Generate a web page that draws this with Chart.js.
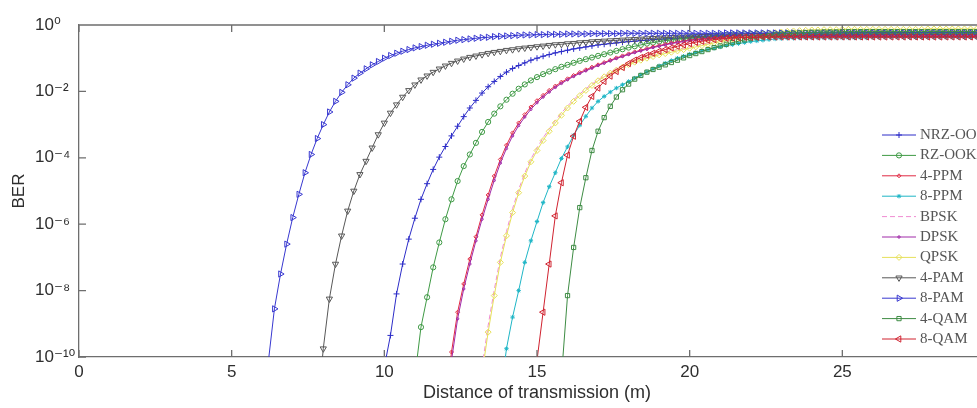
<!DOCTYPE html>
<html>
<head>
<meta charset="utf-8">
<title>BER vs distance</title>
<script src="https://cdn.jsdelivr.net/npm/chart.js@4.4.1/dist/chart.umd.min.js"></script>
<style>
  html, body { margin: 0; padding: 0; background: #fff; overflow: hidden; }
  #ber_chart { display: block; }
</style>
</head>
<body>
<canvas id="ber_chart" width="1000" height="408"></canvas>
<script>
// sample grid shared by every curve (m)
var distance = [
  6.2, 6.4, 6.6, 6.8, 7, 7.2, 7.4, 7.6, 7.8, 8,
  8.2, 8.4, 8.6, 8.8, 9, 9.2, 9.4, 9.6, 9.8, 10,
  10.2, 10.4, 10.6, 10.8, 11, 11.2, 11.4, 11.6, 11.8, 12,
  12.2, 12.4, 12.6, 12.8, 13, 13.2, 13.4, 13.6, 13.8, 14,
  14.2, 14.4, 14.6, 14.8, 15, 15.2, 15.4, 15.6, 15.8, 16,
  16.2, 16.4, 16.6, 16.8, 17, 17.2, 17.4, 17.6, 17.8, 18,
  18.2, 18.4, 18.6, 18.8, 19, 19.2, 19.4, 19.6, 19.8, 20,
  20.2, 20.4, 20.6, 20.8, 21, 21.2, 21.4, 21.6, 21.8, 22,
  22.2, 22.4, 22.6, 22.8, 23, 23.2, 23.4, 23.6, 23.8, 24,
  24.2, 24.4, 24.6, 24.8, 25, 25.2, 25.4, 25.6, 25.8, 26,
  26.2, 26.4, 26.6, 26.8, 27, 27.2, 27.4, 27.6, 27.8, 28,
  28.2, 28.4, 28.6, 28.8, 29, 29.2, 29.4, 29.6, 29.8, 30,
];

var seriesNames = ["NRZ-OOK", "RZ-OOK", "4-PPM", "8-PPM", "BPSK", "DPSK", "QPSK", "4-PAM", "8-PAM", "4-QAM", "8-QAM"];
// first distance of each curve
var startDistance = [10, 11, 12, 13.8, 13.2, 12, 13.2, 7.8, 6.2, 15.8, 14.8];

// log10(BER), one value per grid step from startDistance
var nrzOok = [
  -10.3, -9.35, -8.1, -7.2, -6.45, -5.82, -5.25, -4.78, -4.35, -3.98,
  -3.66, -3.34, -3.05, -2.76, -2.5, -2.27, -2.05, -1.86, -1.7, -1.55,
  -1.42, -1.31, -1.22, -1.14, -1.06, -1.0, -0.94, -0.89, -0.84, -0.8,
  -0.76, -0.72, -0.69, -0.66, -0.63, -0.6, -0.58, -0.56, -0.54, -0.52,
  -0.5, -0.49, -0.47, -0.46, -0.44, -0.43, -0.42, -0.41, -0.4, -0.39,
  -0.39, -0.38, -0.37, -0.37, -0.36, -0.36, -0.35, -0.35, -0.35, -0.34,
  -0.34, -0.34, -0.33, -0.33, -0.33, -0.33, -0.32, -0.32, -0.32, -0.32,
  -0.32, -0.31, -0.31, -0.31, -0.31, -0.31, -0.31, -0.31, -0.31, -0.31,
  -0.31, -0.3, -0.3, -0.3, -0.3, -0.3, -0.3, -0.3, -0.3, -0.3,
  -0.3, -0.3, -0.3, -0.3, -0.3, -0.3, -0.3, -0.3, -0.3, -0.3,
  -0.3,
];
var rzOok = [
  -10.6, -9.1, -8.2, -7.3, -6.55, -5.85, -5.25, -4.7, -4.25, -3.9,
  -3.55, -3.22, -2.92, -2.67, -2.45, -2.25, -2.07, -1.92, -1.79, -1.67,
  -1.57, -1.48, -1.4, -1.33, -1.26, -1.2, -1.14, -1.08, -1.03, -0.98,
  -0.93, -0.88, -0.83, -0.78, -0.73, -0.68, -0.64, -0.6, -0.56, -0.53,
  -0.5, -0.47, -0.45, -0.42, -0.4, -0.38, -0.36, -0.35, -0.33, -0.32,
  -0.31, -0.3, -0.29, -0.28, -0.27, -0.27, -0.26, -0.26, -0.25, -0.25,
  -0.25, -0.25, -0.24, -0.24, -0.24, -0.24, -0.24, -0.24, -0.23, -0.23,
  -0.23, -0.23, -0.23, -0.23, -0.23, -0.23, -0.23, -0.23, -0.23, -0.23,
  -0.23, -0.23, -0.23, -0.22, -0.22, -0.22, -0.22, -0.22, -0.22, -0.22,
  -0.22, -0.22, -0.22, -0.22, -0.22, -0.22,
];
var ppm4 = [
  -11.4, -9.85, -8.65, -7.8, -7.05, -6.38, -5.72, -5.12, -4.55, -4.05,
  -3.62, -3.25, -2.95, -2.7, -2.47, -2.28, -2.12, -1.97, -1.84, -1.72,
  -1.62, -1.52, -1.43, -1.35, -1.27, -1.2, -1.13, -1.06, -0.99, -0.93,
  -0.87, -0.81, -0.76, -0.71, -0.66, -0.62, -0.58, -0.54, -0.51, -0.48,
  -0.45, -0.43, -0.41, -0.4, -0.39, -0.38, -0.37, -0.36, -0.35, -0.35,
  -0.34, -0.34, -0.34, -0.34, -0.34, -0.34, -0.34, -0.34, -0.34, -0.34,
  -0.34, -0.34, -0.34, -0.34, -0.34, -0.33, -0.33, -0.33, -0.33, -0.33,
  -0.33, -0.33, -0.33, -0.33, -0.33, -0.33, -0.33, -0.33, -0.33, -0.33,
  -0.33, -0.33, -0.33, -0.33, -0.33, -0.33, -0.33, -0.33, -0.33, -0.33,
  -0.33,
];
var ppm8 = [
  -11.2, -9.75, -8.8, -8.0, -7.15, -6.5, -5.92, -5.35, -4.87, -4.45,
  -4.02, -3.67, -3.32, -3.02, -2.75, -2.5, -2.3, -2.15, -2.02, -1.9,
  -1.8, -1.7, -1.6, -1.5, -1.41, -1.32, -1.23, -1.15, -1.07, -1.0,
  -0.94, -0.88, -0.83, -0.78, -0.74, -0.7, -0.66, -0.62, -0.59, -0.56,
  -0.53, -0.5, -0.48, -0.46, -0.44, -0.42, -0.41, -0.4, -0.4, -0.39,
  -0.39, -0.39, -0.39, -0.39, -0.39, -0.39, -0.39, -0.39, -0.39, -0.39,
  -0.39, -0.38, -0.38, -0.38, -0.38, -0.38, -0.38, -0.38, -0.38, -0.38,
  -0.38, -0.38, -0.38, -0.38, -0.38, -0.38, -0.38, -0.38, -0.38, -0.38,
  -0.38, -0.38,
];
var bpsk = [
  -10.3, -9.05, -7.98, -7.0, -6.22, -5.53, -4.95, -4.46, -4.04, -3.7,
  -3.4, -3.13, -2.88, -2.65, -2.44, -2.25, -2.08, -1.92, -1.78, -1.65,
  -1.53, -1.42, -1.32, -1.23, -1.15, -1.08, -1.02, -0.96, -0.91, -0.86,
  -0.82, -0.78, -0.74, -0.7, -0.66, -0.62, -0.58, -0.54, -0.5, -0.47,
  -0.44, -0.41, -0.38, -0.35, -0.33, -0.31, -0.29, -0.27, -0.25, -0.23,
  -0.22, -0.21, -0.2, -0.19, -0.18, -0.18, -0.17, -0.17, -0.17, -0.16,
  -0.16, -0.16, -0.16, -0.16, -0.16, -0.16, -0.16, -0.16, -0.16, -0.16,
  -0.16, -0.16, -0.16, -0.16, -0.16, -0.16, -0.16, -0.16, -0.16, -0.16,
  -0.16, -0.16, -0.16, -0.16, -0.16,
];
var dpsk = [
  -11.7, -10.1, -8.85, -7.95, -7.2, -6.5, -5.85, -5.25, -4.68, -4.16,
  -3.72, -3.34, -3.03, -2.77, -2.54, -2.34, -2.17, -2.02, -1.88, -1.76,
  -1.65, -1.55, -1.46, -1.38, -1.3, -1.22, -1.15, -1.08, -1.01, -0.95,
  -0.89, -0.83, -0.78, -0.73, -0.68, -0.64, -0.6, -0.56, -0.53, -0.5,
  -0.47, -0.45, -0.43, -0.41, -0.4, -0.39, -0.38, -0.37, -0.36, -0.36,
  -0.35, -0.35, -0.35, -0.35, -0.35, -0.35, -0.35, -0.35, -0.35, -0.35,
  -0.35, -0.35, -0.35, -0.35, -0.35, -0.34, -0.34, -0.34, -0.34, -0.34,
  -0.34, -0.34, -0.34, -0.34, -0.34, -0.34, -0.34, -0.34, -0.34, -0.34,
  -0.34, -0.34, -0.34, -0.34, -0.34, -0.34, -0.34, -0.34, -0.34, -0.34,
  -0.34,
];
var qpsk = [
  -10.5, -9.25, -8.15, -7.15, -6.35, -5.65, -5.05, -4.55, -4.12, -3.78,
  -3.48, -3.2, -2.95, -2.72, -2.5, -2.3, -2.13, -1.97, -1.82, -1.68,
  -1.56, -1.45, -1.36, -1.27, -1.19, -1.12, -1.06, -1.0, -0.95, -0.9,
  -0.86, -0.82, -0.78, -0.74, -0.7, -0.66, -0.62, -0.58, -0.54, -0.5,
  -0.46, -0.42, -0.39, -0.36, -0.33, -0.3, -0.27, -0.25, -0.23, -0.21,
  -0.19, -0.18, -0.17, -0.16, -0.15, -0.15, -0.14, -0.14, -0.14, -0.13,
  -0.13, -0.13, -0.13, -0.13, -0.13, -0.13, -0.13, -0.13, -0.13, -0.13,
  -0.13, -0.13, -0.13, -0.12, -0.12, -0.12, -0.12, -0.12, -0.12, -0.12,
  -0.12, -0.12, -0.12, -0.12, -0.12,
];
var pam4 = [
  -11.8, -9.75, -8.25, -7.2, -6.35, -5.6, -5.0, -4.5, -4.1, -3.7,
  -3.3, -2.95, -2.65, -2.4, -2.17, -1.97, -1.8, -1.65, -1.53, -1.42,
  -1.32, -1.23, -1.15, -1.08, -1.02, -0.97, -0.93, -0.89, -0.85, -0.82,
  -0.79, -0.76, -0.74, -0.71, -0.69, -0.67, -0.65, -0.63, -0.61, -0.59,
  -0.58, -0.56, -0.55, -0.53, -0.52, -0.5, -0.49, -0.48, -0.47, -0.46,
  -0.45, -0.44, -0.43, -0.42, -0.41, -0.4, -0.39, -0.38, -0.37, -0.36,
  -0.36, -0.35, -0.35, -0.34, -0.34, -0.33, -0.33, -0.33, -0.32, -0.32,
  -0.32, -0.31, -0.31, -0.31, -0.31, -0.3, -0.3, -0.3, -0.3, -0.3,
  -0.3, -0.29, -0.29, -0.29, -0.29, -0.29, -0.29, -0.29, -0.29, -0.28,
  -0.28, -0.28, -0.28, -0.28, -0.28, -0.28, -0.28, -0.28, -0.28, -0.28,
  -0.28, -0.28, -0.28, -0.28, -0.27, -0.27, -0.27, -0.27, -0.27, -0.27,
  -0.27, -0.27,
];
var pam8 = [
  -10.15, -8.55, -7.5, -6.6, -5.8, -5.1, -4.45, -3.9, -3.42, -3.0,
  -2.62, -2.3, -2.03, -1.8, -1.6, -1.45, -1.32, -1.2, -1.1, -1.0,
  -0.92, -0.85, -0.79, -0.74, -0.69, -0.65, -0.61, -0.58, -0.55, -0.52,
  -0.49, -0.46, -0.44, -0.42, -0.4, -0.38, -0.37, -0.35, -0.34, -0.33,
  -0.32, -0.31, -0.3, -0.3, -0.29, -0.29, -0.28, -0.28, -0.28, -0.27,
  -0.27, -0.27, -0.27, -0.26, -0.26, -0.26, -0.26, -0.26, -0.25, -0.25,
  -0.25, -0.25, -0.25, -0.25, -0.25, -0.25, -0.25, -0.25, -0.25, -0.25,
  -0.25, -0.25, -0.25, -0.25, -0.25, -0.24, -0.24, -0.24, -0.24, -0.24,
  -0.24, -0.24, -0.24, -0.24, -0.24, -0.24, -0.24, -0.24, -0.24, -0.24,
  -0.24, -0.24, -0.24, -0.24, -0.24, -0.24, -0.24, -0.24, -0.24, -0.24,
  -0.24, -0.24, -0.24, -0.24, -0.24, -0.23, -0.23, -0.23, -0.23, -0.23,
  -0.23, -0.23, -0.23, -0.23, -0.23, -0.23, -0.23, -0.23, -0.23, -0.23,
];
var qam4 = [
  -10.6, -8.15, -6.7, -5.5, -4.6, -3.78, -3.2, -2.79, -2.45, -2.17,
  -1.95, -1.78, -1.63, -1.52, -1.42, -1.34, -1.27, -1.2, -1.13, -1.06,
  -0.99, -0.92, -0.86, -0.8, -0.74, -0.68, -0.63, -0.58, -0.53, -0.49,
  -0.45, -0.41, -0.38, -0.35, -0.32, -0.3, -0.28, -0.26, -0.25, -0.24,
  -0.23, -0.22, -0.22, -0.21, -0.21, -0.21, -0.2, -0.2, -0.2, -0.2,
  -0.2, -0.2, -0.2, -0.2, -0.2, -0.2, -0.2, -0.2, -0.2, -0.2,
  -0.2, -0.2, -0.2, -0.2, -0.2, -0.2, -0.2, -0.2, -0.2, -0.2,
  -0.2, -0.2,
];
var qam8 = [
  -12.0, -10.1, -8.65, -7.2, -5.75, -4.75, -3.92, -3.35, -2.9, -2.48,
  -2.15, -1.9, -1.7, -1.54, -1.4, -1.28, -1.16, -1.06, -0.98, -0.91,
  -0.85, -0.79, -0.74, -0.69, -0.64, -0.6, -0.56, -0.52, -0.49, -0.46,
  -0.44, -0.42, -0.4, -0.39, -0.38, -0.37, -0.37, -0.37, -0.36, -0.36,
  -0.36, -0.36, -0.36, -0.36, -0.36, -0.36, -0.36, -0.36, -0.36, -0.36,
  -0.36, -0.36, -0.36, -0.36, -0.36, -0.36, -0.36, -0.36, -0.36, -0.36,
  -0.36, -0.36, -0.36, -0.36, -0.36, -0.36, -0.36, -0.36, -0.36, -0.36,
  -0.36, -0.36, -0.36, -0.36, -0.36, -0.36, -0.36,
];

var seriesLogBer = [nrzOok, rzOok, ppm4, ppm8, bpsk, dpsk, qpsk, pam4, pam8, qam4, qam8];

var xTicks = [0, 5, 10, 15, 20, 25, 30];
var yTicks = [1e-10, 1e-8, 1e-6, 1e-4, 1e-2, 1];

// matlab-ish line specs
var lineStyles = [
  { color: "#2d2dc8", point: "cross", radius: 3 },
  { color: "#3f9a45", point: "circle", radius: 2.6 },
  { color: "#e02a44", point: "rectRot", radius: 2 },
  { color: "#1fb6c6", point: "star", radius: 2.2 },
  { color: "#f08cd2", point: false, dash: [5, 3] },
  { color: "#a02aa8", point: "circle", radius: 1.2 },
  { color: "#e6e05a", point: "rectRot", radius: 3 },
  { color: "#585858", point: "triangle", radius: 3.6, rotation: 180 },
  { color: "#3838d0", point: "triangle", radius: 3.6, rotation: 90 },
  { color: "#3e8c44", point: "rect", radius: 3 },
  { color: "#d0222f", point: "triangle", radius: 3.6, rotation: -90 },
];

var axisColor = "#6e6e6e";
var textColor = "#2e2e2e";
var sansFont = "'Liberation Sans', 'DejaVu Sans', Arial, sans-serif";

var supChars = { "0": "⁰", "1": "¹", "2": "²", "3": "³", "4": "⁴", "5": "⁵", "6": "⁶", "7": "⁷", "8": "⁸", "9": "⁹", "-": "⁻" };

function powerLabel(v) {
  var e = String(Math.round(Math.log10(v)));
  return "10" + e.split("").map(function (c) { return supChars[c]; }).join("");
}

function startIndex(d) {
  return distance.findIndex(function (g) { return Math.abs(g - d) < 1e-6; });
}

var datasets = seriesNames.map(function (name, i) {
  var first = startIndex(startDistance[i]);
  var s = lineStyles[i];
  return {
    label: name,
    data: seriesLogBer[i].map(function (v, k) {
      return { x: distance[first + k], y: Math.pow(10, v) };
    }),
    borderColor: s.color,
    borderWidth: 1,
    borderDash: s.dash || [],
    pointStyle: s.point,
    pointRadius: s.point ? s.radius : 0,
    pointRotation: s.rotation || 0,
    pointBorderColor: s.color,
    pointBackgroundColor: "rgba(0,0,0,0)",
    pointBorderWidth: 1,
    tension: 0,
    order: seriesNames.length - i, // last series ends up on top, like matlab
  };
});

// box on top and right, inward tick marks on all sides
var axesBox = {
  id: "axesBox",
  afterDatasetsDraw: function (chart) {
    var ctx = chart.ctx;
    var a = chart.chartArea;
    var xs = chart.scales.x;
    var ys = chart.scales.y;
    ctx.save();
    ctx.strokeStyle = axisColor;
    ctx.lineWidth = 1.3;
    ctx.beginPath();
    ctx.moveTo(a.left, a.top);
    ctx.lineTo(a.right, a.top);
    ctx.lineTo(a.right, a.bottom);
    xTicks.forEach(function (v) {
      var px = xs.getPixelForValue(v);
      ctx.moveTo(px, a.bottom);
      ctx.lineTo(px, a.bottom - 7);
      ctx.moveTo(px, a.top);
      ctx.lineTo(px, a.top + 7);
    });
    yTicks.forEach(function (v) {
      var py = ys.getPixelForValue(v);
      ctx.moveTo(a.left, py);
      ctx.lineTo(a.left + 7, py);
      ctx.moveTo(a.right, py);
      ctx.lineTo(a.right - 7, py);
    });
    ctx.stroke();
    ctx.restore();
  },
};

// legend inside the axes, right side
var boxLegend = {
  id: "boxLegend",
  afterDraw: function (chart) {
    var ctx = chart.ctx;
    var drawPoint = Chart.helpers && Chart.helpers.drawPoint;
    ctx.save();
    chart.data.datasets.forEach(function (ds, i) {
      var y = 135 + i * 20.4;
      ctx.strokeStyle = ds.borderColor;
      ctx.lineWidth = 1;
      ctx.setLineDash(ds.borderDash);
      ctx.beginPath();
      ctx.moveTo(882, y);
      ctx.lineTo(916, y);
      ctx.stroke();
      ctx.setLineDash([]);
      if (ds.pointStyle && drawPoint) {
        ctx.fillStyle = "rgba(0,0,0,0)";
        drawPoint(ctx, { pointStyle: ds.pointStyle, rotation: ds.pointRotation, radius: ds.pointRadius, borderWidth: 1 }, 899, y);
      }
      ctx.fillStyle = "#555";
      ctx.font = "15px 'Liberation Serif', 'DejaVu Serif', 'Times New Roman', serif";
      ctx.textBaseline = "middle";
      ctx.textAlign = "left";
      ctx.fillText(ds.label, 920, y);
    });
    ctx.restore();
  },
};

var ctx = document.getElementById("ber_chart").getContext("2d");

var berChart = new Chart(ctx, {
  type: "line",
  data: { datasets: datasets },
  plugins: [axesBox, boxLegend],
  options: {
    responsive: false,
    animation: false,
    layout: { padding: { top: 25, right: 3, left: 35, bottom: 0 } },
    plugins: {
      legend: { display: false },
      tooltip: { enabled: false },
    },
    scales: {
      x: {
        type: "linear",
        min: 0,
        max: 30,
        afterBuildTicks: function (scale) {
          scale.ticks = xTicks.map(function (v) { return { value: v }; });
        },
        afterFit: function (scale) { scale.height = 51; },
        grid: { display: false, drawTicks: false },
        border: { display: true, color: axisColor, width: 1.3 },
        ticks: {
          padding: 5,
          maxRotation: 0,
          color: textColor,
          font: { family: sansFont, size: 17 },
          callback: function (v) { return v === 30 ? null : String(v); },
        },
        title: {
          display: true,
          text: "Distance of transmission (m)",
          color: textColor,
          font: { family: sansFont, size: 18 },
          padding: { top: 0, bottom: 4 },
        },
      },
      y: {
        type: "logarithmic",
        min: 1e-10,
        max: 1,
        afterBuildTicks: function (scale) {
          scale.ticks = yTicks.map(function (v) { return { value: v }; });
        },
        afterFit: function (scale) { scale.width = 44; },
        grid: { display: false, drawTicks: false },
        border: { display: true, color: axisColor, width: 1.3 },
        ticks: {
          crossAlign: "far", // matlab keeps the "10" bases lined up on the left
          color: textColor,
          font: { family: sansFont, size: 17 },
          callback: function (v) { return powerLabel(v); },
        },
        title: {
          display: true,
          text: "BER",
          color: textColor,
          font: { family: sansFont, size: 17 },
          padding: { top: -26, bottom: 0 },
        },
      },
    },
  },
});
</script>
</body>
</html>
